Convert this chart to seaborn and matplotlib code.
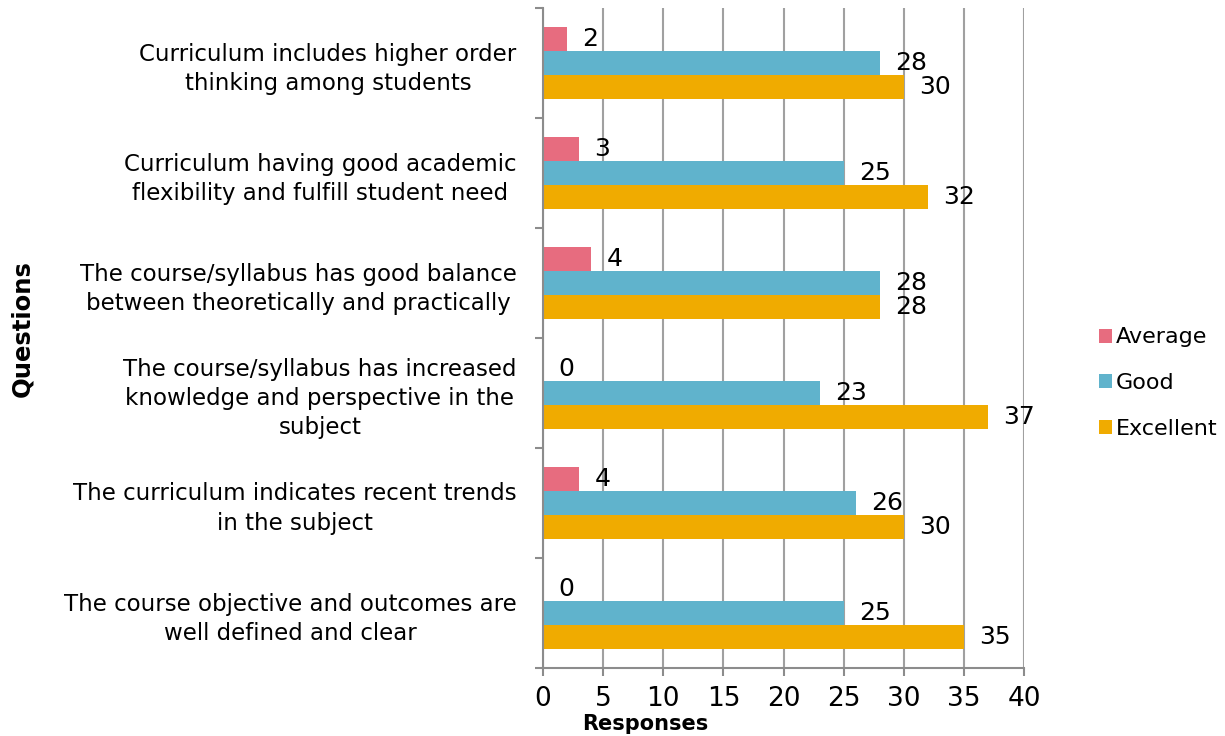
import matplotlib
matplotlib.use("Agg")
import matplotlib.pyplot as plt
import seaborn as sns
import pandas as pd
from matplotlib.patches import Patch

questions = [
    "Curriculum includes higher order\nthinking among students",
    "Curriculum having good academic\nflexibility and fulfill student need",
    "The course/syllabus has good balance\nbetween theoretically and practically",
    "The course/syllabus has increased\nknowledge and perspective in the\nsubject",
    "The curriculum indicates recent trends\nin the subject",
    "The course objective and outcomes are\nwell defined and clear",
]
series = ["Average", "Good", "Excellent"]
average = [2, 3, 4, 0, 3, 0]
good = [28, 25, 28, 23, 26, 25]
excellent = [30, 32, 28, 37, 30, 35]
average_labels = ["2", "3", "4", "0", "4", "0"]
good_labels = [str(v) for v in good]
excellent_labels = [str(v) for v in excellent]
x_ticks = [0, 5, 10, 15, 20, 25, 30, 35, 40]

colors = {"Average": "#E76C7F", "Good": "#60B3CC", "Excellent": "#F0AB00"}

rows = []
for s, vals in zip(series, [average, good, excellent]):
    for q, v in zip(questions, vals):
        rows.append({"Question": q, "Series": s, "Value": v})
df = pd.DataFrame(rows)

sns.set_theme(style="white")
FONT = ["DejaVu Sans"]
plt.rcParams["font.family"] = FONT
plt.rcParams["text.color"] = "black"
plt.rcParams["xtick.color"] = "black"
plt.rcParams["ytick.color"] = "black"

fig = plt.figure(figsize=(12.25, 7.36), dpi=100)
ax = fig.add_axes([543 / 1225, 1 - 668 / 736, (1024 - 543) / 1225, (668 - 8) / 736])

sns.barplot(data=df, y="Question", x="Value", hue="Series", order=questions,
            hue_order=series, palette=colors, orient="h", width=0.655,
            saturation=1, ax=ax, legend=False, edgecolor="none", linewidth=0)

ax.set_xlim(0, 40)
ax.set_ylim(len(questions) - 0.5, -0.5)
ax.set_xticks(x_ticks)
ax.set_xticklabels([str(t) for t in x_ticks], fontsize=19, color="black")
ax.tick_params(axis="x", length=6, width=1.5, color="#8C8C8C", labelcolor="black",
               pad=7, direction="out", bottom=True)
ax.grid(axis="x", color="#A0A0A0", linewidth=1.5)
ax.set_axisbelow(True)

ax.set_yticks(range(len(questions)))
ax.set_yticklabels(questions, fontsize=16.5, color="black")
for lab in ax.get_yticklabels():
    lab.set_multialignment("center")
    lab.set_linespacing(1.35)
ax.tick_params(axis="y", which="major", length=0, pad=19, labelcolor="black")
ax.set_yticks([i - 0.5 for i in range(len(questions) + 1)], minor=True)
ax.tick_params(axis="y", which="minor", length=6, width=1.5, color="#8C8C8C", left=True)

for sp in ["top", "right"]:
    ax.spines[sp].set_visible(False)
for sp in ["left", "bottom"]:
    ax.spines[sp].set_color("#8C8C8C")
    ax.spines[sp].set_linewidth(1.5)

ax.set_xlabel("")
ax.set_ylabel("")

label_sets = [average_labels, good_labels, excellent_labels]
for container, labels in zip(ax.containers, label_sets):
    ax.bar_label(container, labels=labels, padding=11, fontsize=18, color="black")

handles = [Patch(facecolor=colors[s], edgecolor="none") for s in series]
leg = fig.legend(handles, series, loc="center left", bbox_to_anchor=(1079 / 1225, 1 - 383 / 736),
                 frameon=False, fontsize=16, handlelength=0.6, handleheight=0.6,
                 handletextpad=0.15, labelspacing=1.15)
for t in leg.get_texts():
    t.set_color("black")

fig.text(645 / 1225, 1 - 724 / 736, "Responses", ha="center", va="center",
         fontsize=15, fontweight="bold", color="black")
fig.text(22 / 1225, 1 - 329 / 736, "Questions", ha="center", va="center",
         rotation=90, fontsize=17.5, fontweight="bold", color="black")

fig.savefig("out.png", dpi=100)
